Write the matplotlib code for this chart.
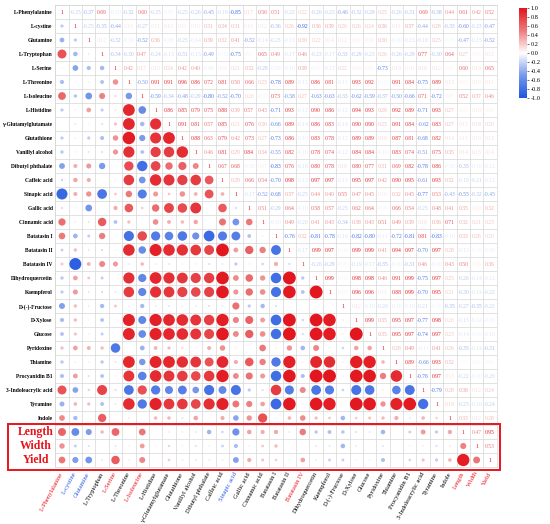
import matplotlib
matplotlib.use("Agg")
import matplotlib.pyplot as plt
import numpy as np
from matplotlib.colors import LinearSegmentedColormap, Normalize
from matplotlib.patches import Rectangle
import matplotlib.colorbar as mcb

plt.rcParams['font.family'] = ['Liberation Serif', 'DejaVu Serif']

labels = ["L-Phenylalanine", "L-cystine", "Glutamine", "L-Tryptophan", "L-Serine",
          "L-Threonine", "L-Isoleucine", "L-Histidine", "γ-Glutamylglutamate",
          "Glutathione", "Vanillyl alcohol", "Dibutyl phthalate", "Caffeic acid",
          "Sinapic acid", "Gallic acid", "Cinnamic acid", "Batatasin I", "Batatasin II",
          "Batatasin IV", "Dihydroquercetin", "Kaempferol", "D-(-)-Fructose", "D-Xylose",
          "Glucose", "Pyridoxine", "Thiamine", "Procyanidin B1", "3-Indoleacrylic acid",
          "Tyramine", "Indole", "Length", "Width", "Yield"]

# upper triangle, one list per row (values right of the diagonal)
phe = [-0.25, -0.37, 0.69, -0.10, -0.32, 0.60, -0.25, -0.07, -0.25, -0.26, -0.45, -0.19, -0.85,
       0.17, 0.56, 0.51, -0.22, 0.22, -0.26, -0.25, -0.46, -0.32, -0.29, 0.25, -0.26, -0.31,
       0.69, -0.38, 0.44, 0.61, 0.42, 0.52]
cys = [-0.25, -0.35, -0.44, 0.10, -0.27, 0.11, 0.13, 0.11, 0.10, 0.31, 0.34, 0.31, 0.10, 0.12,
       -0.36, 0.26, -0.92, 0.36, 0.39, 0.26, 0.26, 0.24, 0.36, 0.11, 0.37, -0.44, 0.28, -0.33,
       -0.60, -0.23, -0.47]
gln = [0.12, -0.32, -0.10, -0.52, 0.36, -0.09, -0.25, -0.14, 0.39, 0.32, 0.41, -0.52, -0.14,
       -0.23, -0.13, 0.30, 0.22, 0.14, 0.12, 0.09, 0.10, 0.30, -0.10, -0.15, -0.18, 0.25, -0.05,
       -0.47, -0.15, -0.52]
trp = [-0.34, -0.30, 0.47, -0.24, -0.15, -0.31, -0.15, -0.49, -0.05, -0.75, 0.05, 0.65, 0.49,
       -0.17, 0.46, -0.23, -0.17, -0.33, -0.29, -0.23, 0.26, -0.26, -0.29, 0.77, -0.30, 0.64,
       0.27, 0.05, 0.12]
ser = [0.42, 0.17, 0.13, 0.24, 0.42, 0.40, -0.09, 0.09, 0.21, 0.32, -0.29, -0.09, -0.10, 0.39,
       -0.07, -0.13, 0.22, 0.09, 0.07, -0.73, 0.14, 0.10, 0.16, 0.12, 0.05, 0.60, 0.14, 0.65]
thr = [-0.50, 0.91, 0.91, 0.96, 0.86, 0.72, 0.81, 0.50, 0.66, 0.25, -0.78, 0.89, -0.12, 0.86,
       0.81, -0.11, 0.93, 0.92, -0.05, 0.91, 0.84, -0.75, 0.89, 0.13, 0.05, 0.10, 0.11]
ile = [-0.59, -0.34, -0.48, -0.29, -0.80, -0.52, -0.70, 0.20, -0.07, 0.73, -0.58, 0.27, -0.63,
       -0.63, -0.33, -0.62, -0.59, -0.37, -0.50, -0.66, 0.71, -0.72, 0.07, 0.52, 0.37, 0.46]
his = [0.86, 0.85, 0.79, 0.75, 0.88, 0.39, 0.57, 0.43, -0.71, 0.93, -0.12, 0.90, 0.86, -0.12,
       0.94, 0.93, 0.29, 0.92, 0.89, -0.71, 0.93, 0.27, 0.05, 0.10, 0.06]
gglu = [0.91, 0.81, 0.57, 0.85, 0.21, 0.76, 0.30, -0.66, 0.89, -0.14, 0.86, 0.83, -0.14, 0.90,
        0.90, 0.25, 0.91, 0.84, -0.62, 0.83, 0.27, 0.12, 0.18, 0.20]
gsh = [0.88, 0.63, 0.79, 0.42, 0.73, 0.27, -0.73, 0.86, -0.10, 0.83, 0.78, -0.12, 0.89, 0.89,
       0.16, 0.87, 0.81, -0.68, 0.82, 0.14, 0.11, 0.10, 0.12]
van = [0.46, 0.81, 0.29, 0.84, 0.34, -0.55, 0.82, -0.10, 0.78, 0.74, -0.12, 0.84, 0.84, -0.10,
       0.83, 0.74, -0.51, 0.75, 0.35, 0.14, 0.15, 0.14]
dbp = [0.67, 0.68, -0.08, 0.07, -0.83, 0.76, -0.16, 0.80, 0.78, 0.16, 0.80, 0.77, 0.31, 0.69,
       0.82, -0.78, 0.86, -0.08, -0.35, -0.10, -0.12]
caf = [0.29, 0.66, 0.54, -0.70, 0.98, -0.13, 0.97, 0.97, -0.13, 0.95, 0.97, 0.42, 0.90, 0.95,
       -0.61, 0.93, 0.32, -0.19, -0.21, -0.12]
sin = [-0.17, -0.52, -0.68, 0.37, -0.25, 0.44, 0.40, 0.55, 0.47, 0.45, 0.10, 0.32, 0.45, -0.77,
       0.53, -0.43, -0.55, -0.32, -0.45]
gal = [0.51, -0.29, 0.64, -0.10, 0.58, 0.57, -0.25, 0.62, 0.64, -0.05, 0.66, 0.54, -0.25, 0.48,
       0.41, 0.35, 0.10, 0.32]
cin = [-0.10, 0.49, -0.20, 0.41, 0.43, -0.34, 0.38, 0.43, 0.51, 0.49, 0.39, 0.16, 0.36, 0.71,
       0.32, 0.21, 0.23]
bat1 = [-0.76, 0.32, -0.81, -0.78, -0.16, -0.82, -0.80, -0.11, -0.72, -0.81, 0.81, -0.83, -0.10,
        0.33, 0.26, 0.20]
bat2 = [-0.17, 0.99, 0.97, -0.06, 0.99, 0.99, 0.41, 0.94, 0.97, -0.70, 0.97, 0.28, -0.13, -0.05,
        -0.08]
bat4 = [-0.26, -0.29, -0.05, -0.19, -0.17, -0.35, -0.10, -0.31, 0.46, -0.10, 0.43, 0.50, 0.05, 0.36]
dhq = [0.99, -0.05, 0.98, 0.98, 0.46, 0.91, 0.99, -0.75, 0.97, 0.25, -0.26, -0.14, -0.12]
kae = [-0.07, 0.96, 0.96, 0.11, 0.88, 0.99, -0.70, 0.95, 0.21, -0.30, -0.14, -0.22]
fru = [0.12, -0.10, -0.20, -0.10, -0.10, -0.21, -0.05, -0.35, -0.27, -0.35, -0.22]
xyl = [0.99, 0.35, 0.95, 0.97, -0.77, 0.98, 0.20, -0.15, -0.12, -0.10]
glc = [0.35, 0.95, 0.97, -0.74, 0.97, 0.23, -0.14, -0.05, -0.10]
pyr = [0.28, 0.49, -0.11, 0.41, 0.26, -0.35, -0.14, -0.31]
thi = [0.89, -0.66, 0.93, 0.32, 0.03, 0.05, 0.04]
pcb = [-0.76, 0.97, 0.13, -0.22, -0.10, -0.20]
iaa = [-0.79, 0.28, 0.38, 0.12, 0.24]
tyr = [0.19, -0.25, -0.16, -0.24]
ind = [0.33, 0.12, 0.28]
length = [0.47, 0.95]
width = [0.53]

upper = [phe, cys, gln, trp, ser, thr, ile, his, gglu, gsh, van, dbp, caf, sin, gal, cin,
         bat1, bat2, bat4, dhq, kae, fru, xyl, glc, pyr, thi, pcb, iaa, tyr, ind, length, width]

red_labels = ["L-Phenylalanine", "L-Serine", "L-Isoleucine", "Batatasin IV", "Length", "Width", "Yield"]
blue_labels = ["L-cystine", "Glutamine", "Sinapic acid"]

n = len(labels)
corr = np.eye(n)
for i, row in enumerate(upper):
    for k, v in enumerate(row):
        j = i + 1 + k
        corr[i, j] = v
        corr[j, i] = v

cmap = LinearSegmentedColormap.from_list(
    'rb', [(0, '#1f54e0'), (0.25, '#7798ea'), (0.5, '#ffffff'), (0.75, '#ec7b7d'), (1, '#e2141c')])
norm = Normalize(-1, 1)

W, H = 550, 524
fig = plt.figure(figsize=(W / 100, H / 100), dpi=100)
ax = fig.add_axes([55.3 / W, 1 - 467 / H, 441.4 / W, 462 / H])
ax.set_xlim(-0.5, n - 0.5)
ax.set_ylim(n - 0.5, -0.5)

for k in range(n + 1):
    ax.axhline(k - 0.5, color='#d6d6d6', lw=0.5, zorder=1)
    ax.axvline(k - 0.5, color='#d6d6d6', lw=0.5, zorder=1)

cell_px = 441.4 / n
xs, ys, ss, cs = [], [], [], []
for i in range(n):
    for j in range(n):
        v = corr[i, j]
        if i == j:
            ax.text(j, i, "1", ha='center', va='center', fontsize=4.3, color=cmap(norm(1.0)), zorder=3)
        elif j > i:
            ax.text(j, i, f"{v:.2f}", ha='center', va='center', fontsize=4.1,
                    color=cmap(norm(v)), zorder=3)
        else:
            d_pt = abs(v) * cell_px * 0.97 * 72 / 100
            xs.append(j)
            ys.append(i)
            ss.append(d_pt ** 2)
            cs.append(v)
ax.scatter(xs, ys, s=ss, c=cs, cmap=cmap, norm=norm, linewidths=0, zorder=2)

ax.set_xticks(range(n))
ax.set_xticklabels(labels, rotation=62, ha='right', va='center', rotation_mode='anchor', fontsize=4.7)
ax.set_yticks(range(n))
ax.set_yticklabels([lab if lab not in ("Length", "Width", "Yield") else "" for lab in labels],
                   fontsize=4.0, fontweight='bold')
ax.tick_params(length=0, pad=2)
ax.tick_params(axis='x', pad=4)
for t in ax.get_xticklabels():
    if t.get_text() in red_labels:
        t.set_color('#e8141c')
    elif t.get_text() in blue_labels:
        t.set_color('#2a5ae6')
for sp in ax.spines.values():
    sp.set_color('#d6d6d6')
    sp.set_linewidth(0.5)

for lab in ("Length", "Width", "Yield"):
    i = labels.index(lab)
    ax.text(-0.5 - 19.5 / cell_px, i, lab, ha='center', va='center', fontsize=8.5,
            fontweight='bold', color='#e8141c', clip_on=False)

fig.patches.append(Rectangle((8 / W, 1 - 470 / H), 492 / W, 46 / H, transform=fig.transFigure,
                             fill=False, edgecolor='#e8141c', lw=1.4))

cax = fig.add_axes([519 / W, 1 - 98 / H, 8 / W, 90 / H])
cb = mcb.ColorbarBase(cax, cmap=cmap, norm=norm)
ticks = np.round(np.arange(-1, 1.01, 0.2), 1)
cb.set_ticks(ticks)
cb.set_ticklabels([f"{t:.1f}" if t != 0 else "0.0" for t in ticks])
cb.ax.tick_params(labelsize=4.5, length=1.5, width=0.4, pad=1)
cb.outline.set_visible(False)

fig.savefig("out.png", dpi=100)
